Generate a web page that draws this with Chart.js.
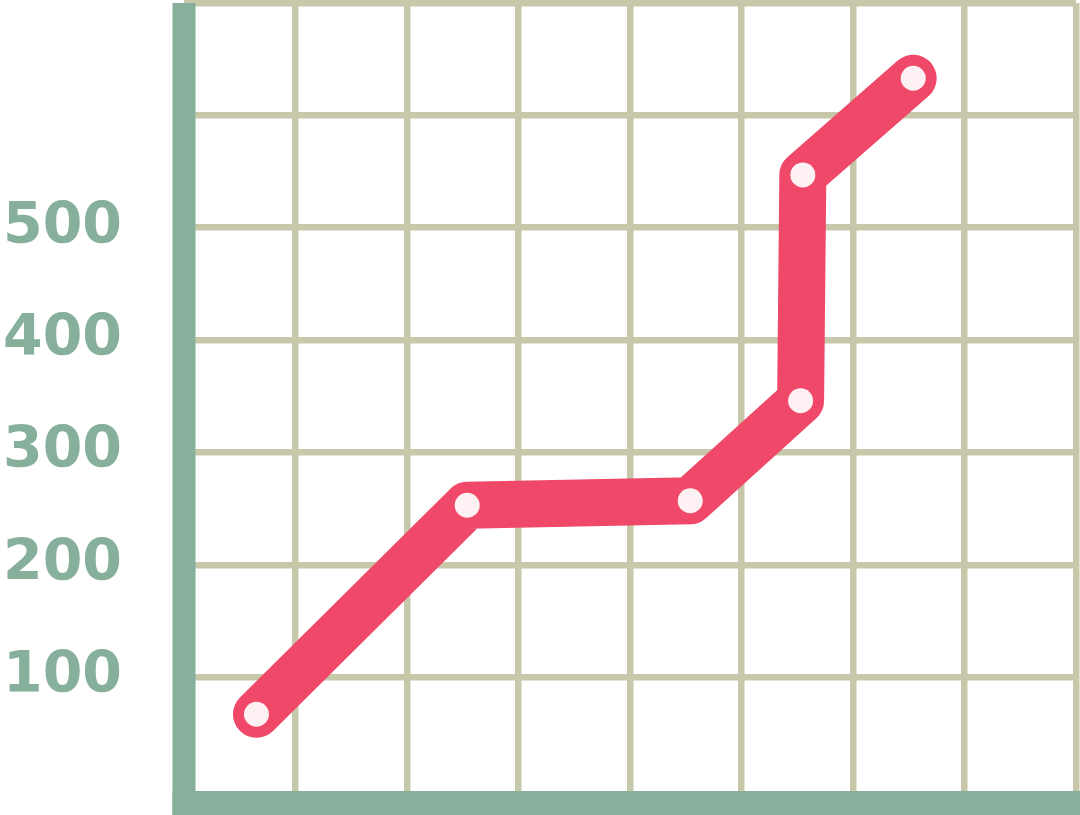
<!DOCTYPE html>
<html>
<head>
<meta charset="utf-8">
<style>
  html, body { margin: 0; padding: 0; background: #ffffff; }
  #chart { display: block; }
</style>
<script src="https://cdn.jsdelivr.net/npm/chart.js@4/dist/chart.umd.min.js"></script>
</head>
<body>
<canvas id="chart" width="1080" height="815"></canvas>
<script>
// Data
const xValues = [0.65, 2.54, 4.54, 5.53, 5.55, 6.54];
const yValues = [67, 253, 257, 346, 547, 633];

// Gridlines and labels of the value axis
const yGridValues = [100, 200, 300, 400, 500, 600, 700];
const yTickLabels = ["100", "200", "300", "400", "500"];

const frameColor = "#86af9c";
const gridColor = "#c7c8a9";
const lineColor = "#ef4868";
const pointColor = "#fef1f4";

// Thick L shaped frame drawn round the plot area
const framePlugin = {
  id: "frame",
  beforeDatasetsDraw(chart) {
    const { ctx, chartArea } = chart;
    const half = 11.5;
    ctx.save();
    ctx.fillStyle = frameColor;
    ctx.fillRect(chartArea.left - half, chartArea.top, half * 2, chartArea.bottom + 12 - chartArea.top);
    ctx.fillRect(chartArea.left - half, chartArea.bottom - 12, chart.width - chartArea.left + half, 24);
    ctx.restore();
  }
};

const points = xValues.map((x, i) => ({ x, y: yValues[i] }));

const ctx = document.getElementById("chart").getContext("2d");
const chart = new Chart(ctx, {
  type: "line",
  data: {
    datasets: [{
      data: points,
      borderColor: lineColor,
      borderWidth: 47,
      borderCapStyle: "round",
      borderJoinStyle: "round",
      tension: 0,
      fill: false,
      clip: false,
      pointRadius: 12.5,
      pointHoverRadius: 12.5,
      pointBorderWidth: 0,
      pointBackgroundColor: pointColor
    }]
  },
  options: {
    responsive: false,
    animation: false,
    layout: { autoPadding: false, padding: { top: 3, right: 4, bottom: 0, left: 0 } },
    plugins: {
      legend: { display: false },
      tooltip: { enabled: false }
    },
    scales: {
      x: {
        type: "linear",
        min: 0,
        max: 8,
        ticks: { stepSize: 1, display: false },
        grid: { color: gridColor, lineWidth: 6.5, drawTicks: false },
        border: { display: false },
        afterFit: s => { s.height = 12; s.paddingLeft = 0; s.paddingRight = 0; }
      },
      y: {
        type: "linear",
        min: -12,
        max: 700,
        afterBuildTicks: s => { s.ticks = yGridValues.map(v => ({ value: v })); },
        afterFit: s => { s.width = 184; s.paddingTop = 0; s.paddingBottom = 0; },
        ticks: {
          padding: 62,
          color: frameColor,
          font: { family: "DejaVu Sans", weight: "bold", size: 57 },
          callback: v => yTickLabels.includes(String(v)) ? String(v) : ""
        },
        grid: { color: gridColor, lineWidth: 6.5, drawTicks: false },
        border: { display: false }
      }
    }
  },
  plugins: [framePlugin]
});
</script>
</body>
</html>
